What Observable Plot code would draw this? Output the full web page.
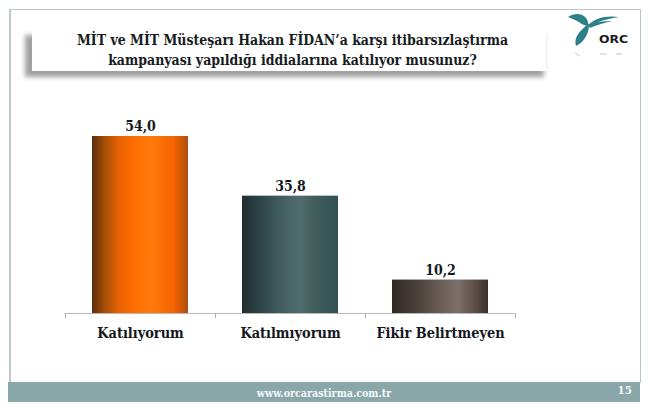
<!DOCTYPE html>
<html>
<head>
<meta charset="utf-8">
<script src="https://cdn.jsdelivr.net/npm/d3@7"></script>
<script src="https://cdn.jsdelivr.net/npm/@observablehq/plot@0.6"></script>
<style>
html,body{margin:0;padding:0;background:#fff;overflow:hidden}
#page{position:relative;width:650px;height:410px;font-family:"DejaVu Serif Condensed","DejaVu Serif",serif;font-weight:bold;color:#14181c;overflow:hidden}
#frame{position:absolute;left:9px;top:9px;width:629px;height:373px;border:1px solid #b9c6c6;border-left:2px solid #bccaca;border-bottom:0}
#shadow{position:absolute;left:25px;top:35px;width:519px;height:42px;background:#a0a0a0;filter:blur(2.5px)}
#panel{position:absolute;left:32px;top:28px;width:514px;height:43px;background:#fff}
#title{position:absolute;left:32px;top:31px;width:521px;text-align:center;font-size:13.95px;line-height:19.5px;white-space:nowrap;color:#171c22}
#footer{position:absolute;left:8px;top:382px;width:632px;height:20px;background:#89a7a9;color:#fff}
#url{position:absolute;left:0;width:100%;top:5px;text-align:center;font-size:10.6px;color:#f4f8f8}
#num{position:absolute;right:8px;top:1px;font-size:11.5px;color:#f4f8f8}
#logo{position:absolute;left:560px;top:10px}
#chart{position:absolute;left:0;top:0}
</style>
</head>
<body>
<div id="page">
  <div id="frame"></div>
  <div id="shadow"></div>
  <div id="panel"></div>
  <div id="title">MİT ve MİT Müsteşarı Hakan FİDAN’a karşı itibarsızlaştırma<br>kampanyası yapıldığı iddialarına katılıyor musunuz?</div>
  <svg id="logo" width="75" height="50" viewBox="0 0 75 50">
    <path d="M8 7 C14 3 22 3 26 8 C28 11 28 13 29 16 C25 16 21 14 19 12 C16 10 12 9 8 7Z" fill="#2f7f89"/>
    <path d="M27 15 C21 20 13 27 16 36 C23 33 29 24 29 15Z" fill="#2f7f89"/>
    <path d="M28 15 C35 8 46 5 59 7 C51 8 44 10 38 12 C44 11 49 11 52 11 C44 13 36 15 30 18Z" fill="#2f7f89"/>
    <path d="M15 43 L20 46 M40 44 L47 44 M56 44 L62 44" stroke="#dfe3e3" stroke-width="2" fill="none"/>
    <text x="39" y="32.5" font-family="DejaVu Sans" font-weight="bold" font-size="10" textLength="29" lengthAdjust="spacingAndGlyphs" fill="#1a1a1a">ORC</text>
  </svg>
  <div id="chart"></div>
  <div id="footer"><div id="url">www.orcarastirma.com.tr</div><div id="num">15</div></div>
</div>
<script>
const categories = ["Katılıyorum", "Katılmıyorum", "Fikir Belirtmeyen"];
const values = [54.0, 35.8, 10.2];
const gradientIds = ["gradOrange", "gradTeal", "gradBrown"];
const gradientStops = [
  [[0,"#5a2c0c"],[0.12,"#a04c08"],[0.28,"#e86204"],[0.42,"#ff6c02"],[0.62,"#ff7a0c"],[0.85,"#f46402"],[0.96,"#c45406"],[1,"#a0521c"]],
  [[0,"#1f2e30"],[0.18,"#2c4345"],[0.42,"#43605f"],[0.62,"#506d6d"],[0.72,"#43605f"],[1,"#335052"]],
  [[0,"#2e2824"],[0.25,"#4a403b"],[0.55,"#6f625b"],[0.68,"#7d6f69"],[0.85,"#5f524c"],[1,"#3a302b"]]
];
const rows = categories.map((c, i) => ({category: c, value: values[i], id: gradientIds[i]}));
const fmt = v => v.toFixed(1).replace(".", ",");
const labelFont = "DejaVu Serif Condensed";

function gradients() {
  const defs = d3.create("svg:defs");
  gradientIds.forEach((id, i) => {
    const g = defs.append("linearGradient").attr("id", id).attr("x1", 0).attr("x2", 1).attr("y1", 0).attr("y2", 0);
    gradientStops[i].forEach(([o, c]) => g.append("stop").attr("offset", o).attr("stop-color", c));
  });
  return defs.node();
}

const chart = Plot.plot({
  width: 650,
  height: 410,
  marginLeft: 64.7,
  marginRight: 135.3,
  marginTop: 136,
  marginBottom: 97,
  style: {background: "transparent", overflow: "visible"},
  x: {type: "band", domain: categories, paddingInner: 0.36, paddingOuter: 0.18, label: null},
  y: {domain: [0, 54], axis: null},
  marks: [
    gradients,
    Plot.ruleY([0], {stroke: "#b8b8b8", strokeWidth: 1}),
    Plot.ruleX(categories, {x: d => d, y1: 0, y2: -1.5, dx: -75, stroke: "#a8a8a8"}),
    Plot.ruleX(categories.slice(-1), {x: d => d, y1: 0, y2: -1.5, dx: 75, stroke: "#a8a8a8"}),
    Plot.barY(rows, {x: "category", y: "value", fill: d => `url(#${d.id})`}),
    Plot.text(rows, {x: "category", y: "value", text: d => fmt(d.value), dy: -10, fontSize: 14, fontWeight: "bold", fontFamily: labelFont, fill: "#14181c"}),
    Plot.axisX({tickSize: 0, tickPadding: 14, fontSize: 14.4, fontWeight: "bold", fontFamily: labelFont, fill: "#14181c", label: null})
  ]
});
document.getElementById("chart").append(chart);
</script>
</body>
</html>
